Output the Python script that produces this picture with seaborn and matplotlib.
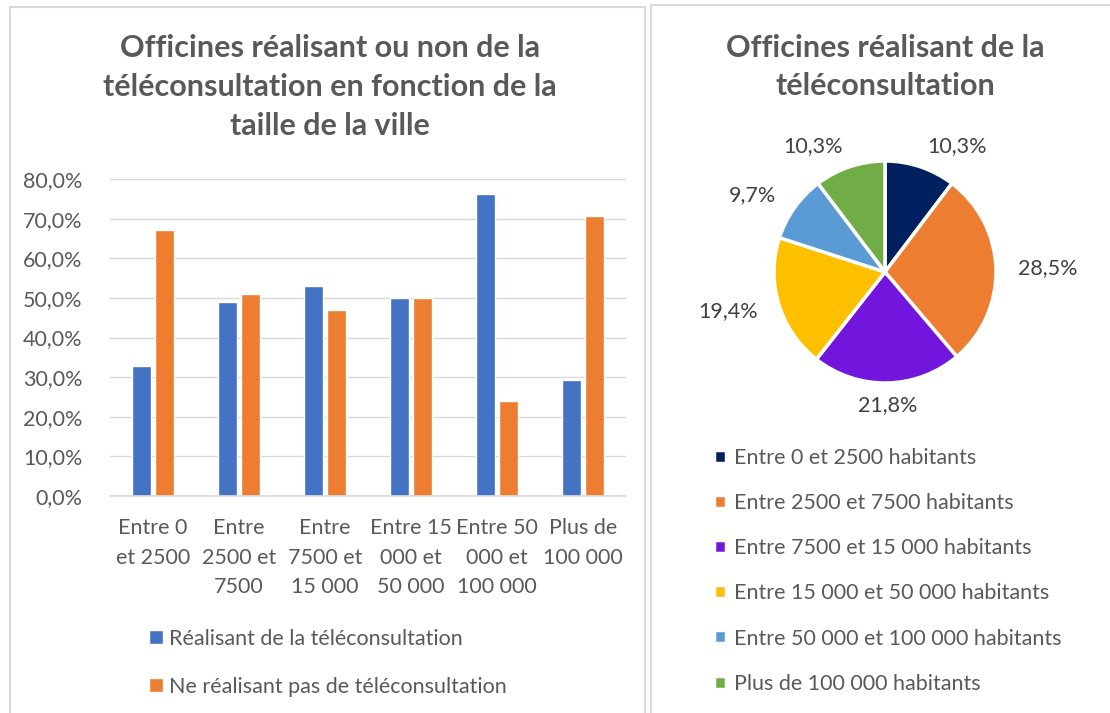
import matplotlib
matplotlib.use("Agg")
import matplotlib.pyplot as plt
import seaborn as sns
import pandas as pd
from matplotlib.lines import Line2D

# bar chart data
villes = ["Entre 0\net 2500", "Entre\n2500 et\n7500", "Entre\n7500 et\n15 000",
          "Entre 15\n000 et\n50 000", "Entre 50\n000 et\n100 000", "Plus de\n100 000"]
realisant = [32.8, 48.9, 53.0, 50.0, 76.1, 29.3]
non_realisant = [67.2, 51.1, 47.0, 50.0, 23.9, 70.7]
series = ["Réalisant de la téléconsultation", "Ne réalisant pas de téléconsultation"]
bar_colors = ["#4472C4", "#ED7D31"]

# pie chart data
tranches = ["Entre 0 et 2500 habitants", "Entre 2500 et 7500 habitants",
            "Entre 7500 et 15 000 habitants", "Entre 15 000 et 50 000 habitants",
            "Entre 50 000 et 100 000 habitants", "Plus de 100 000 habitants"]
parts = [10.3, 28.5, 21.8, 19.4, 9.7, 10.3]
pie_colors = ["#002060", "#ED7D31", "#7216DD", "#FFC000", "#5B9BD5", "#70AD47"]

sns.set_theme(style="white")
plt.rcParams["font.family"] = ["Lato", "DejaVu Sans"]
TXT = "#595959"
FS = 15.5
W, H = 1110, 713

fig = plt.figure(figsize=(W / 100, H / 100), dpi=100)


def fx(px):
    return px / W


def fy(py):
    return 1 - py / H


# panel borders
border = "#D9D9D9"
for xs, ys in [([10, 10], [713, 7]), ([10, 645], [7, 7]), ([645, 645], [7, 713]),
               ([651, 651], [713, 5]), ([651, 1110], [5, 5])]:
    fig.add_artist(Line2D([fx(x) for x in xs], [fy(y) for y in ys], color=border, lw=1.5))

# ---- bar chart
df = pd.DataFrame({
    "ville": villes * 2,
    "serie": [series[0]] * len(villes) + [series[1]] * len(villes),
    "valeur": realisant + non_realisant,
})
ax = fig.add_axes([fx(110), fy(496), fx(626) - fx(110), fy(179) - fy(496)])
sns.barplot(data=df, x="ville", y="valeur", hue="serie", palette=bar_colors,
            width=0.53, gap=0.15, ax=ax, saturation=1, legend=True)
ax.set_ylim(0, 80)
ax.set_xlim(-0.5, 5.5)
ax.set_yticks(range(0, 81, 10))
ax.set_yticklabels([f"{v},0%" for v in range(0, 81, 10)])
ax.yaxis.grid(True, color=border, lw=1)
ax.set_axisbelow(True)
for s in ["top", "right", "left"]:
    ax.spines[s].set_visible(False)
ax.spines["bottom"].set_color(border)
ax.tick_params(axis="y", length=0, pad=20, labelsize=FS, labelcolor=TXT)
ax.tick_params(axis="x", length=0, pad=16, labelsize=FS, labelcolor=TXT)
for t in ax.get_xticklabels():
    t.set_linespacing(1.58)
ax.set_xlabel("")
ax.set_ylabel("")
handles, labels = ax.get_legend_handles_labels()
ax.get_legend().remove()
fig.legend(handles, labels, loc="upper left", bbox_to_anchor=(fx(138), fy(618)),
           frameon=False, fontsize=FS, labelcolor=TXT, handlelength=0.65,
           handleheight=0.65, handletextpad=0.3, labelspacing=1.3, borderpad=0)
fig.text(fx(330), fy(87), "Officines réalisant ou non de la\ntéléconsultation en fonction de la\ntaille de la ville",
         ha="center", va="center", fontsize=22, fontweight="bold", color=TXT, linespacing=1.46)

# ---- pie chart
R = 111
ax2 = fig.add_axes([fx(885 - 1.5 * R), fy(272 + 1.5 * R), 3 * R / W, 3 * R / H])
wedges, _, autotexts = ax2.pie(parts, colors=pie_colors, startangle=90, counterclock=False,
                               autopct=lambda p: f"{p:.1f}%".replace(".", ","),
                               pctdistance=1.2, radius=1,
                               wedgeprops=dict(edgecolor="white", linewidth=2.5))
for t in autotexts:
    t.set_fontsize(FS)
    t.set_color("#404040")
    x, y = t.get_position()
    if x > 0.15:
        t.set_ha("left")
    elif x < -0.15:
        t.set_ha("right")
ax2.set_xlim(-1.5, 1.5)
ax2.set_ylim(-1.5, 1.5)
ax2.set_aspect("equal")
ax2.axis("off")
fig.legend(wedges, tranches, loc="upper left", bbox_to_anchor=(fx(703), fy(437)),
           frameon=False, fontsize=FS, labelcolor=TXT, handlelength=0.55,
           handleheight=0.55, handletextpad=0.4, labelspacing=1.17, borderpad=0)
fig.text(fx(885), fy(67), "Officines réalisant de la\ntéléconsultation",
         ha="center", va="center", fontsize=22, fontweight="bold", color=TXT, linespacing=1.46)

fig.savefig("out.png", dpi=100)
